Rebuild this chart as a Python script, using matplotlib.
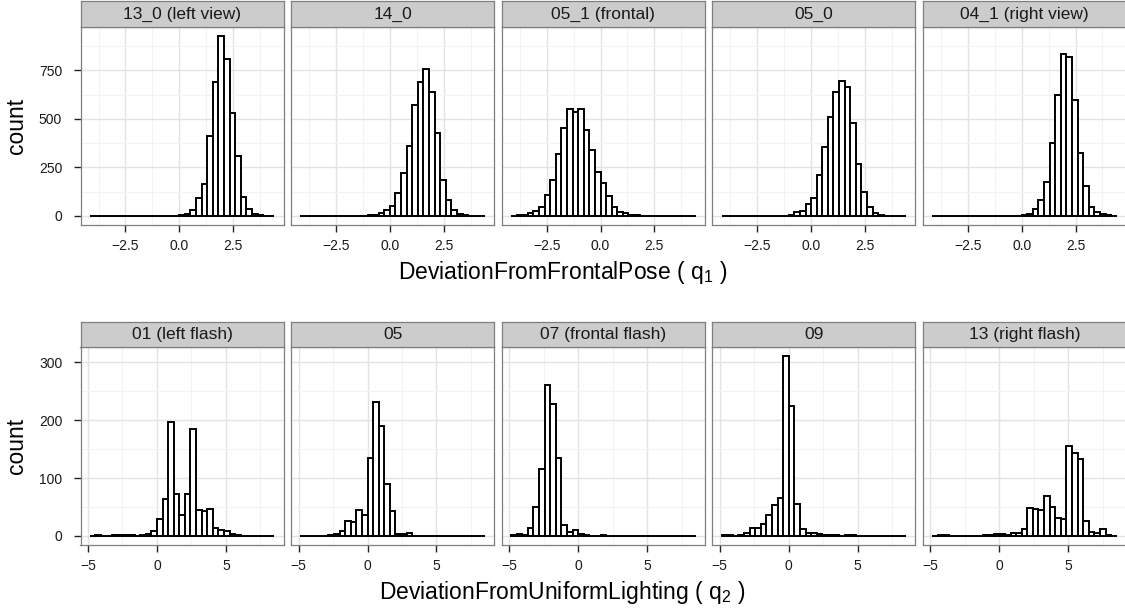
import numpy as np
import matplotlib
matplotlib.use("Agg")
import matplotlib.pyplot as plt

plt.rcParams['font.family'] = ['Liberation Sans', 'DejaVu Sans']
plt.rcParams['mathtext.fontset'] = 'custom'
plt.rcParams['mathtext.rm'] = 'Liberation Sans'
plt.rcParams['axes.unicode_minus'] = True

# ---------------- data: pose (top row) ----------------
pose_titles = ["13_0 (left view)", "14_0", "05_1 (frontal)", "05_0", "04_1 (right view)"]
pose_bin_width = 0.26
pose_first_bin = -16          # bins are k*width, k = -16 .. 16
pose_13_0 = [0]*15 + [1, 3, 12, 32, 94, 164, 414, 688, 929, 810, 531, 308, 99, 38, 12, 3, 1, 0]
pose_14_0 = [0]*11 + [1, 3, 7, 17, 31, 51, 120, 223, 360, 572, 688, 757, 637, 428, 185, 80, 31, 9, 3, 1, 0, 0]
pose_05_1 = [1, 3, 7, 15, 27, 48, 110, 183, 322, 454, 553, 536, 553, 442, 339, 229, 169, 103, 48, 22, 17,
             7, 3, 2, 1, 1] + [0]*7
pose_05_0 = [0]*10 + [1, 2, 7, 21, 27, 60, 92, 209, 353, 510, 640, 698, 664, 479, 267, 123, 48, 15, 5, 1] + [0]*3
pose_04_1 = [0]*15 + [1, 3, 12, 38, 84, 175, 377, 623, 834, 818, 599, 325, 154, 48, 21, 9, 3, 1]
pose_xticks = [-2.5, 0.0, 2.5]
pose_xtick_labels = ["\u22122.5", "0.0", "2.5"]
pose_xminor = [-3.75, -1.25, 1.25, 3.75]
pose_yticks = [0, 250, 500, 750]
pose_yminor = [125, 375, 625, 875]

# ---------------- data: lighting (bottom row) ----------------
light_titles = ["01 (left flash)", "05", "07 (frontal flash)", "09", "13 (right flash)"]
light_bin_width = 0.406
light_first_bin = -12         # bins are k*width, k = -12 .. 20
light_01 = [0, 2, 0, 0, 1, 1, 1, 1, 0, 1, 3, 9, 29, 63, 197, 72, 36, 72, 184, 45, 43, 47, 14, 11, 8, 3, 1] + [0]*6
light_05 = [0]*5 + [1, 4, 9, 26, 24, 44, 37, 134, 232, 189, 89, 43, 3, 3, 5] + [0]*13
light_07 = [1, 3, 1, 14, 50, 116, 260, 227, 134, 19, 7, 10, 3, 1, 0, 0, 2] + [0]*16
light_09 = [1, 1, 0, 1, 5, 13, 13, 20, 37, 53, 65, 311, 225, 56, 12, 6, 5, 3, 2, 1, 1, 0, 1, 2] + [0]*9
light_13 = [0, 1, 2, 0, 0, 0, 0, 0, 0, 1, 2, 3, 3, 1, 5, 6, 12, 49, 47, 44, 69, 50, 31, 30, 155, 144, 133,
            26, 7, 5, 12, 2, 0]
light_xticks = [-5, 0, 5]
light_xtick_labels = ["\u22125", "0", "5"]
light_xminor = [-2.5, 2.5, 7.5]
light_yticks = [0, 100, 200, 300]
light_yminor = [50, 150, 250]

pose_xlabel = "DeviationFromFrontalPose ( " + r"$\mathregular{q_1}$" + " )"
light_xlabel = "DeviationFromUniformLighting ( " + r"$\mathregular{q_2}$" + " )"

# ---------------- layout ----------------
W, H = 1125, 610
fig = plt.figure(figsize=(W / 100, H / 100), dpi=100)
fig.patch.set_facecolor('white')

PANEL_L0 = 80.5
PITCH = 210.6
PW = 203.2
BORDER = '#7F7F7F'
TICK_FS = 10
STRIP_FS = 12.5
TITLE_FS = 16.5


def draw_row(titles, series, bw, first, xticks, xlabels, xminor, yticks, yminor,
             top, bottom, strip_top, xlabel, xlabel_y):
    ymax = max(max(s) for s in series)
    nb = len(series[0])
    lo = first * bw
    hi = (first + nb) * bw
    R = hi - lo
    edges = (first + np.arange(nb)) * bw
    for i, (t, counts) in enumerate(zip(titles, series)):
        left = PANEL_L0 + i * PITCH
        ax = fig.add_axes([left / W, 1 - bottom / H, PW / W, (bottom - top) / H])
        ax.set_facecolor('white')
        ax.set_axisbelow(True)
        ax.bar(edges, counts, width=bw, align='edge', facecolor='white',
               edgecolor='black', linewidth=1.4, zorder=3)
        ax.set_xlim(lo - 0.05 * R, hi + 0.05 * R)
        ax.set_ylim(-0.05 * ymax, 1.05 * ymax)
        ax.set_xticks(xticks)
        ax.set_xticklabels(xlabels)
        ax.set_xticks(xminor, minor=True)
        ax.set_yticks(yticks)
        ax.set_yticks(yminor, minor=True)
        ax.grid(which='major', color='#E3E3E3', linewidth=1.0)
        ax.grid(which='minor', color='#F3F3F3', linewidth=0.8)
        ax.tick_params(which='minor', length=0)
        ax.tick_params(axis='x', which='major', length=4.7, width=1.0, color='#222222',
                       labelsize=TICK_FS, pad=5.5, labelcolor='#1A1A1A')
        if i == 0:
            ax.set_yticklabels([str(v) for v in yticks])
            ax.tick_params(axis='y', which='major', length=4.7, width=1.0, color='#222222',
                           labelsize=TICK_FS, pad=8.5, labelcolor='#1A1A1A')
        else:
            ax.tick_params(axis='y', which='major', length=0, labelleft=False)
        for sp in ax.spines.values():
            sp.set_color(BORDER)
            sp.set_linewidth(0.9)
        # strip
        sax = fig.add_axes([left / W, 1 - top / H, PW / W, (top - strip_top) / H])
        sax.set_facecolor('#CCCCCC')
        sax.set_xticks([])
        sax.set_yticks([])
        for sp in sax.spines.values():
            sp.set_color(BORDER)
            sp.set_linewidth(0.9)
        sax.text(0.5, 0.48, t, ha='center', va='center', fontsize=STRIP_FS,
                 color='#1A1A1A', transform=sax.transAxes)
    fig.text(17 / W, 1 - ((top + bottom) / 2) / H, "count", rotation=90,
             ha='center', va='center', fontsize=TITLE_FS, color='black')
    fig.text(562.5 / W, 1 - xlabel_y / H, xlabel, ha='center', va='center',
             fontsize=TITLE_FS, color='black')


draw_row(pose_titles, [pose_13_0, pose_14_0, pose_05_1, pose_05_0, pose_04_1],
         pose_bin_width, pose_first_bin, pose_xticks, pose_xtick_labels, pose_xminor,
         pose_yticks, pose_yminor, 26.7, 225, 1, pose_xlabel, 272.5)
draw_row(light_titles, [light_01, light_05, light_07, light_09, light_13],
         light_bin_width, light_first_bin, light_xticks, light_xtick_labels, light_xminor,
         light_yticks, light_yminor, 346.7, 545, 321.7, light_xlabel, 592.5)

fig.savefig("out.png", dpi=100, facecolor='white')
